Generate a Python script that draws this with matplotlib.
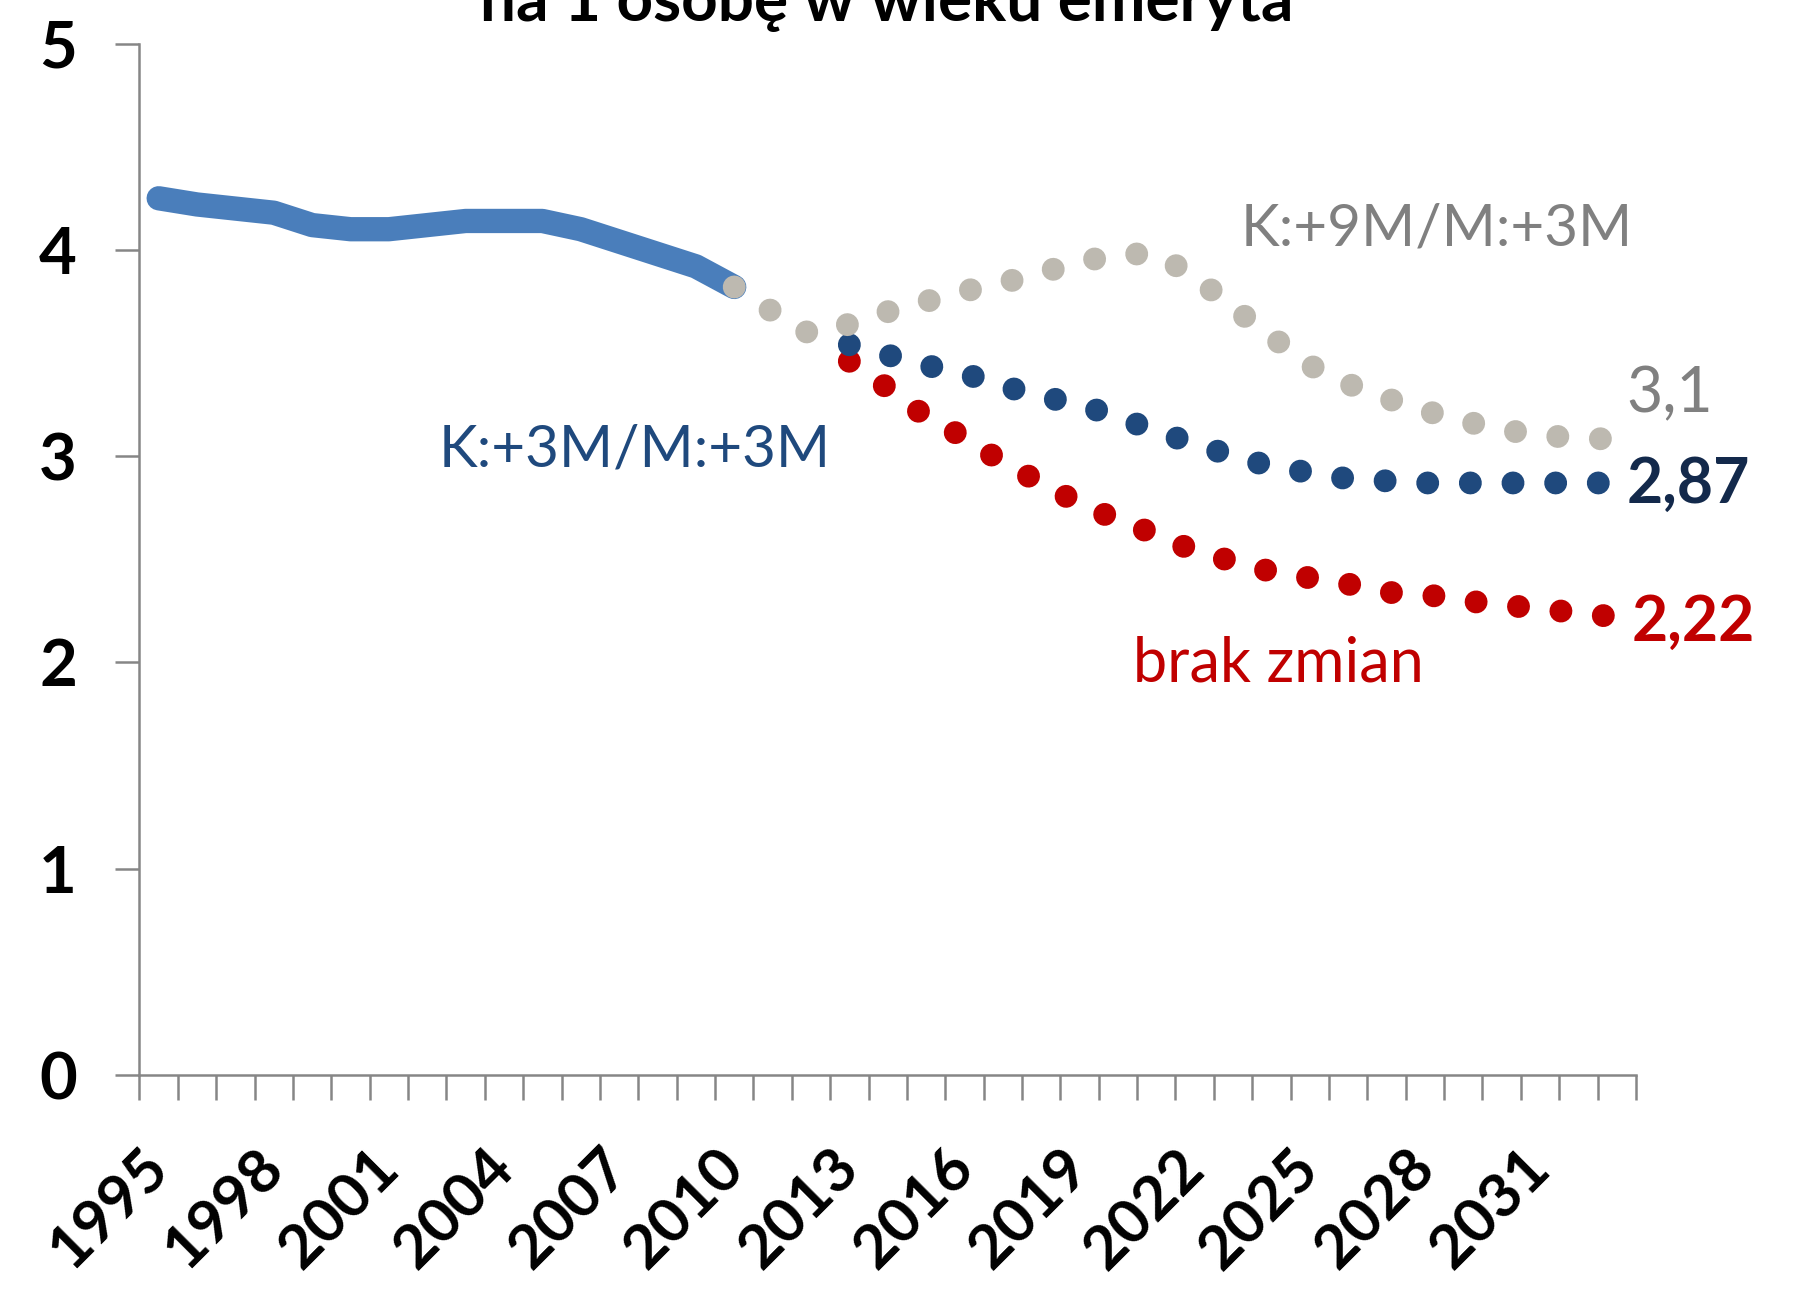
#!/usr/bin/env python3
"""Liczba osób w wieku produkcyjnym na 1 osobę w wieku emeryta - scenariusze."""

import matplotlib
matplotlib.use("Agg")
import matplotlib.pyplot as plt

plt.rcParams["font.family"] = ["Lato", "DejaVu Sans"]

TITLE = "na 1 osobę w wieku emeryta"

HIST_YEARS = list(range(1995, 2011))
HIST_VALUES = [4.25, 4.22, 4.20, 4.18, 4.12, 4.10, 4.10, 4.12, 4.14, 4.14,
               4.14, 4.10, 4.04, 3.98, 3.92, 3.82]

HIGH_YEARS = list(range(2010, 2034))
HIGH_VALUES = [3.82, 3.70, 3.59, 3.64, 3.70, 3.75, 3.80, 3.84, 3.89, 3.94,
               3.98, 3.98, 3.87, 3.72, 3.58, 3.44, 3.35, 3.28, 3.22, 3.17,
               3.13, 3.10, 3.09, 3.08]

MID_YEARS = list(range(2013, 2034))
MID_VALUES = [3.54, 3.49, 3.44, 3.40, 3.34, 3.29, 3.25, 3.19, 3.12, 3.06,
              3.00, 2.95, 2.92, 2.89, 2.88, 2.87, 2.87, 2.87, 2.87, 2.87, 2.87]

LOW_YEARS = list(range(2013, 2034))
LOW_VALUES = [3.46, 3.33, 3.19, 3.09, 2.97, 2.87, 2.77, 2.69, 2.62, 2.54,
              2.49, 2.44, 2.41, 2.38, 2.34, 2.33, 2.30, 2.28, 2.26, 2.24, 2.22]

LABEL_HIGH = "K:+9M/M:+3M"
LABEL_MID = "K:+3M/M:+3M"
LABEL_LOW = "brak zmian"

X_LABEL_YEARS = list(range(1995, 2032, 3))
Y_TICKS = [0, 1, 2, 3, 4, 5]

BLUE_LINE = "#4A7EBB"
GRAY_DOT = "#BDB9B0"
NAVY_DOT = "#1F497D"
RED_DOT = "#C00000"
AXIS_GRAY = "#868686"


def fmt_end(v, digits):
    return f"{v:.{digits}f}".replace(".", ",")


def main():
    fig = plt.figure(figsize=(17.93, 13.04), dpi=100)
    ax = fig.add_axes([0.0778, 0.1756, 0.9124 - 0.0778, 0.9666 - 0.1756])

    dot_style = dict(linewidth=16.5, linestyle=(0, (0.001, 1.86)),
                     dash_capstyle="round")

    ax.plot(HIST_YEARS, HIST_VALUES, color=BLUE_LINE, linewidth=17.5,
            solid_capstyle="round", solid_joinstyle="round", zorder=2)
    ax.plot(LOW_YEARS, LOW_VALUES, color=RED_DOT, zorder=3, **dot_style)
    ax.plot(MID_YEARS, MID_VALUES, color=NAVY_DOT, zorder=4, **dot_style)
    ax.plot(HIGH_YEARS, HIGH_VALUES, color=GRAY_DOT, zorder=5, **dot_style)

    ax.set_xlim(1994.5, 2033.5)
    ax.set_ylim(0, 5)

    # category-style axis: ticks between years, labels every third year
    first, last = 1995, 2033
    ax.set_xticks([y - 0.5 for y in range(first, last + 2)])
    ax.set_xticklabels([])
    ax.set_xticks(X_LABEL_YEARS, minor=True)
    ax.set_xticklabels([str(y) for y in X_LABEL_YEARS], minor=True,
                       rotation=45, ha="right", va="center",
                       rotation_mode="anchor", fontsize=44,
                       fontweight="bold")
    ax.tick_params(axis="x", which="major", direction="out", length=18,
                   width=1.8, color=AXIS_GRAY)
    ax.tick_params(axis="x", which="minor", length=0, pad=60)

    ax.set_yticks(Y_TICKS)
    ax.set_yticklabels([str(t) for t in Y_TICKS], fontsize=47,
                       fontweight="bold")
    ax.tick_params(axis="y", direction="out", length=17, width=1.8,
                   color=AXIS_GRAY, pad=28)

    for side in ("top", "right"):
        ax.spines[side].set_visible(False)
    for side in ("left", "bottom"):
        ax.spines[side].set_color(AXIS_GRAY)
        ax.spines[side].set_linewidth(1.8)

    ax.text(2023.2, 4.10, LABEL_HIGH, color="#808080", fontsize=42,
            ha="left", va="center")
    ax.text(2002.3, 3.03, LABEL_MID, color="#1F497D", fontsize=42,
            ha="left", va="center")
    ax.text(2020.4, 1.99, LABEL_LOW, color=RED_DOT, fontsize=44,
            ha="left", va="center")

    ax.text(2033.25, 3.30, fmt_end(HIGH_VALUES[-1], 1), color="#808080",
            fontsize=45, ha="left", va="center")
    ax.text(2033.25, 2.86, fmt_end(MID_VALUES[-1], 2), color="#13294B",
            fontsize=45, ha="left", va="center", fontweight="bold")
    ax.text(2033.4, 2.19, fmt_end(LOW_VALUES[-1], 2), color=RED_DOT,
            fontsize=45, ha="left", va="center", fontweight="bold")

    fig.text(0.4948, 1 - 21 / 1304, TITLE, fontsize=46, fontweight="bold",
             ha="center", va="baseline")

    fig.savefig("out.png", dpi=100)
    plt.close(fig)


if __name__ == "__main__":
    main()
